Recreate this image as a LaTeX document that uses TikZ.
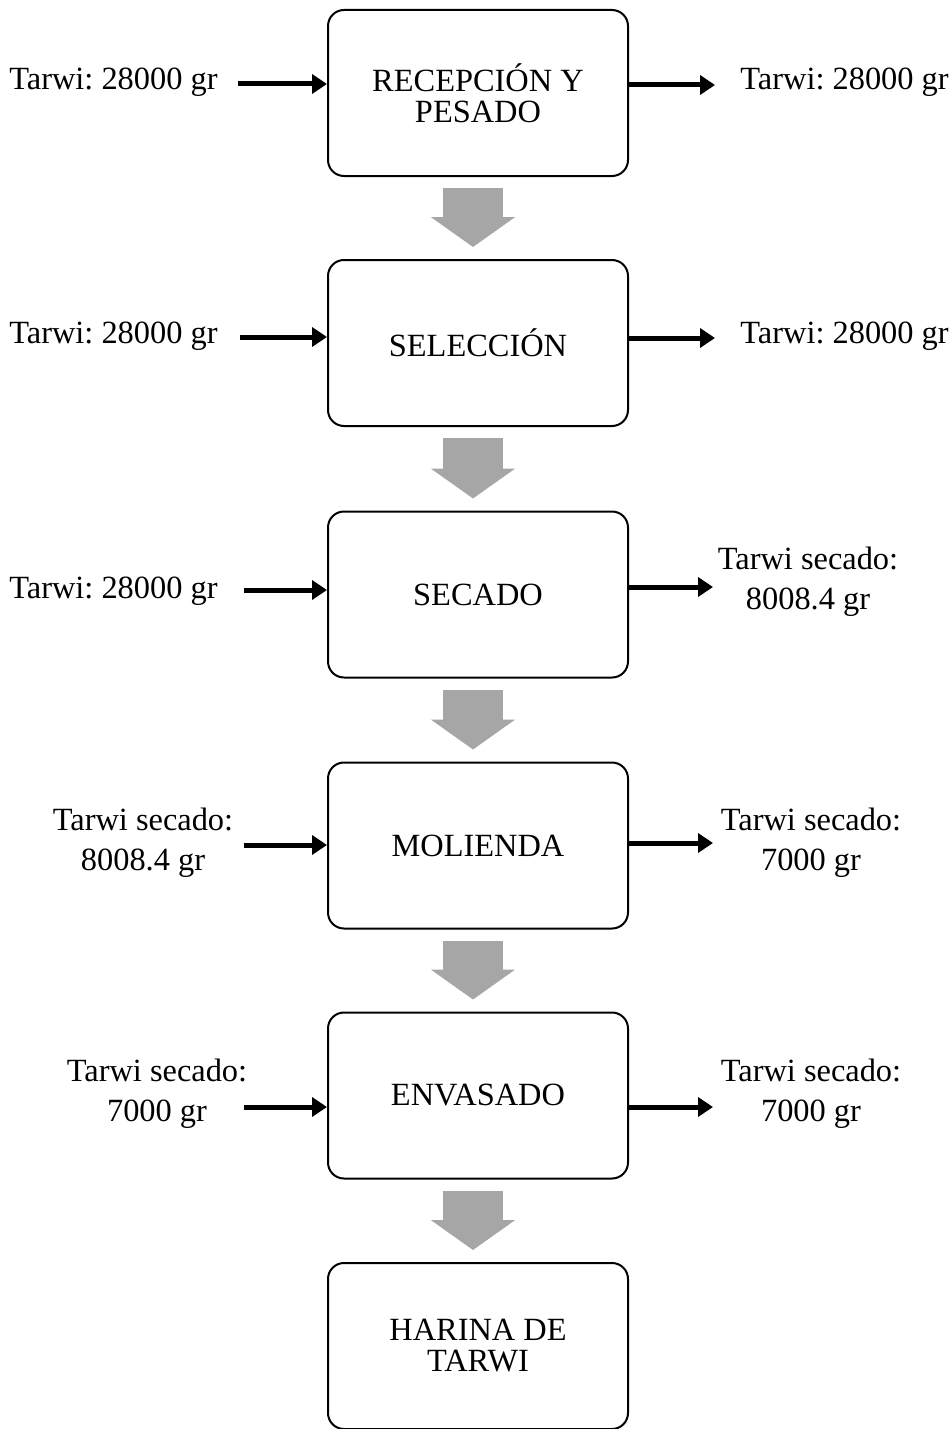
\documentclass[tikz,border=0pt]{standalone}
\usepackage{fontspec}
\setmainfont{Liberation Serif}
\usetikzlibrary{arrows.meta,calc}
\definecolor{arrowgray}{RGB}{166,166,166}
\frenchspacing
\tikzset{
  process/.style={draw, line width=1pt, rounded corners=8pt, minimum width=150pt,
    minimum height=83pt, align=center, inner sep=0pt, font=\fontsize{16.2}{15.5}\selectfont},
  flowlabel/.style={align=center, inner sep=0pt, font=\fontsize{16.2}{20}\selectfont},
  flow/.style={-{Triangle[length=7.5pt,width=9.5pt]}, line width=2.5pt},
  stage/.style={-{Triangle[length=15pt,width=41.5pt]}, line width=30pt, arrowgray},
}
\begin{document}
\begin{tikzpicture}[x=0.5pt,y=-0.5pt]
    \useasboundingbox (0,0) rectangle (951,1429);
    % process steps
    \node[process] (b1) at (478,93)     {RECEPCIÓN Y\\PESADO};
    \node[process] (b2) at (478,343)    {SELECCIÓN};
    \node[process] (b3) at (478,594.5)  {SECADO};
    \node[process] (b4) at (478,845.5)  {MOLIENDA};
    \node[process] (b5) at (478,1095.5) {ENVASADO};
    \node[process] (b6) at (478,1346)   {HARINA DE\\TARWI};
    \foreach \a/\b in {b1/b2,b2/b3,b3/b4,b4/b5,b5/b6}{
        \draw[stage, shorten <=5.5pt, shorten >=6pt] ([xshift=-2.5pt]\a.south) -- ([xshift=-2.5pt]\b.north);
    }
    % inputs
    \node[flowlabel, anchor=east] (in1lab) at (218,82)   {Tarwi: 28000 gr};
    \node[flowlabel, anchor=east] (in2lab) at (218,336)  {Tarwi: 28000 gr};
    \node[flowlabel, anchor=east] (in3lab) at (218,591)  {Tarwi: 28000 gr};
    \node[flowlabel] (in4lab) at (143,843)  {Tarwi secado:\\8008.4 gr};
    \node[flowlabel] (in5lab) at (157,1094) {Tarwi secado:\\7000 gr};
    \coordinate (in1) at (238,84);
    \coordinate (in2) at (240,337);
    \coordinate (in3) at (244,590);
    \coordinate (in4) at (244,845);
    \coordinate (in5) at (244,1107);
    % outputs
    \node[flowlabel, anchor=west] (out1lab) at (740,82)  {Tarwi: 28000 gr};
    \node[flowlabel, anchor=west] (out2lab) at (740,336) {Tarwi: 28000 gr};
    \node[flowlabel] (out3lab) at (808,582)  {Tarwi secado:\\8008.4 gr};
    \node[flowlabel] (out4lab) at (811,843)  {Tarwi secado:\\7000 gr};
    \node[flowlabel] (out5lab) at (811,1094) {Tarwi secado:\\7000 gr};
    \coordinate (out1) at (715,85);
    \coordinate (out2) at (715,338);
    \coordinate (out3) at (713,587);
    \coordinate (out4) at (713,843);
    \coordinate (out5) at (713,1107);
    \foreach \i in {1,...,5}{
        \draw[flow] (in\i) -- (in\i -| b\i.west);
        \draw[flow] (out\i -| b\i.east) -- (out\i);
    }
\end{tikzpicture}
\end{document}
